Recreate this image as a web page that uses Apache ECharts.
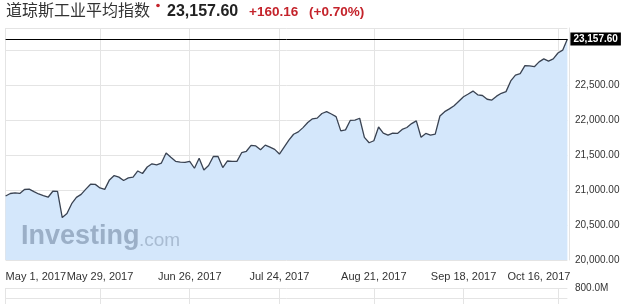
<!DOCTYPE html>
<html><head><meta charset="utf-8">
<script src="https://cdn.jsdelivr.net/npm/echarts@6/dist/echarts.min.js"></script>
<style>html,body{margin:0;padding:0;background:#fff}#c{width:627px;height:304px}</style>
</head><body><div id="c"></div>
<script>
// trading days, May 1 – Oct 18, 2017
const dates = [
 '05-01','05-02','05-03','05-04','05-05','05-08','05-09','05-10','05-11','05-12',
 '05-15','05-16','05-17','05-18','05-19','05-22','05-23','05-24','05-25','05-26',
 '05-30','05-31',
 '06-01','06-02','06-05','06-06','06-07','06-08','06-09','06-12','06-13','06-14',
 '06-15','06-16','06-19','06-20','06-21','06-22','06-23','06-26','06-27','06-28',
 '06-29','06-30',
 '07-03','07-05','07-06','07-07','07-10','07-11','07-12','07-13','07-14','07-17',
 '07-18','07-19','07-20','07-21','07-24','07-25','07-26','07-27','07-28','07-31',
 '08-01','08-02','08-03','08-04','08-07','08-08','08-09','08-10','08-11','08-14',
 '08-15','08-16','08-17','08-18','08-21','08-22','08-23','08-24','08-25','08-28',
 '08-29','08-30','08-31',
 '09-01','09-05','09-06','09-07','09-08','09-11','09-12','09-13','09-14','09-15',
 '09-18','09-19','09-20','09-21','09-22','09-25','09-26','09-27','09-28','09-29',
 '10-02','10-03','10-04','10-05','10-06','10-09','10-10','10-11','10-12','10-13',
 '10-16','10-17','10-18'
];
const closes = [
 20913.46,20949.89,20957.90,20951.47,21006.94,21012.42,20975.78,20943.11,20919.42,20896.61,
 20981.94,20979.75,20606.93,20663.02,20804.84,20894.83,20937.91,21012.28,21082.95,21080.28,
 21029.47,21008.65,
 21144.18,21206.29,21184.04,21136.23,21173.69,21182.53,21271.97,21235.67,21328.47,21374.56,
 21359.90,21384.28,21528.99,21467.14,21410.03,21397.29,21394.76,21409.55,21310.66,21454.61,
 21287.03,21349.63,
 21479.27,21478.17,21320.04,21414.34,21408.52,21409.07,21532.14,21553.09,21637.74,21629.72,
 21574.73,21640.75,21611.78,21580.07,21513.17,21613.43,21711.01,21796.55,21830.31,21891.12,
 21963.92,22016.24,22026.10,22092.81,22118.42,22085.34,22048.70,21844.01,21858.32,21993.71,
 21998.99,22024.87,21750.73,21674.51,21703.75,21899.89,21812.09,21783.40,21813.67,21808.40,
 21865.37,21892.43,21948.10,
 21987.56,21753.31,21807.64,21784.78,21797.79,22057.37,22118.86,22158.18,22203.48,22268.34,
 22331.35,22370.80,22412.59,22359.23,22349.59,22296.09,22284.32,22340.71,22381.20,22405.09,
 22557.60,22641.67,22661.64,22775.39,22773.67,22761.07,22830.68,22872.89,22841.01,22871.72,
 22956.96,22997.44,23157.60
];
const tickIndex = [0,20,39,58,78,97,117];
const tickText = ['May 1, 2017','May 29, 2017','Jun 26, 2017','Jul 24, 2017','Aug 21, 2017','Sep 18, 2017','Oct 16, 2017'];
const lastValue = 23157.60;
const titleName = '道琼斯工业平均指数';
const lastText = '23,157.60';
const changeText = '+160.16';
const changePct = '(+0.70%)';
const yMin = 20000, yMax = 23314, yStep = 500;
const volMax = 800e6, volStep = 400e6, volText = '800.0M';

const FONT = '"Liberation Sans", Arial, Helvetica, sans-serif';
const GRID = '#e4e4e4';
const RED = '#c4232b';

const catData = dates.map((d, i) => {
  if (i === 0) return { value: d, textStyle: { align: 'left' } };
  if (i === 117) return { value: d, textStyle: { align: 'center', padding: [0, 38, 0, 0] } };
  return d;
});
const isTick = (i) => tickIndex.indexOf(i) >= 0;
const fmtNum = (v) => v.toLocaleString('en-US', { minimumFractionDigits: 2, maximumFractionDigits: 2 });

const chart = echarts.init(document.getElementById('c'), null, { renderer: 'canvas' });
chart.setOption({
  animation: false,
  grid: [
    { left: 5.6, right: 59.6, top: 28, height: 232 },
    { left: 5.6, right: 59.6, top: 288, height: 80 }
  ],
  xAxis: [
    {
      type: 'category', gridIndex: 0, data: catData, boundaryGap: false,
      axisLine: { show: false }, axisTick: { show: false },
      axisLabel: {
        interval: (i) => isTick(i), showMinLabel: true, hideOverlap: false,
        formatter: (v, i) => { const k = tickIndex.indexOf(i); return k >= 0 ? tickText[k] : ''; },
        fontSize: 11, color: '#333', margin: 11, fontFamily: FONT
      },
      splitLine: { show: true, interval: (i) => isTick(i), lineStyle: { color: GRID, width: 1 } }
    },
    {
      type: 'category', gridIndex: 1, data: dates, boundaryGap: false,
      axisLine: { show: false }, axisTick: { show: false }, axisLabel: { show: false },
      splitLine: { show: true, interval: (i) => isTick(i), lineStyle: { color: GRID, width: 1 } }
    }
  ],
  yAxis: [
    {
      type: 'value', gridIndex: 0, position: 'right', min: yMin, max: yMax, interval: yStep,
      offset: 1.6,
      axisLine: { show: true, lineStyle: { color: GRID } }, axisTick: { show: false },
      axisLabel: {
        formatter: (v) => (v % yStep === 0 && Math.abs(v - lastValue) > 200 ? fmtNum(v) : ''),
        fontSize: 10, color: '#333', margin: 6, fontFamily: FONT
      },
      splitLine: { show: true, lineStyle: { color: GRID, width: 1 } }
    },
    {
      type: 'value', gridIndex: 1, position: 'right', min: 0, max: volMax, interval: volStep,
      offset: 1.6,
      axisLine: { show: false }, axisTick: { show: false },
      axisLabel: {
        formatter: (v) => (v === volMax ? volText : ''),
        fontSize: 10, color: '#333', margin: 6, fontFamily: FONT
      },
      splitLine: { show: true, lineStyle: { color: GRID, width: 1 } }
    }
  ],
  series: [{
    type: 'line', xAxisIndex: 0, yAxisIndex: 0, data: closes,
    symbol: 'none', smooth: false,
    lineStyle: { color: '#3a4352', width: 1.3 },
    areaStyle: { color: '#d4e7fb', opacity: 1 },
    markLine: {
      silent: true, symbol: ['none', 'none'],
      lineStyle: { color: '#000', width: 1, type: 'solid' },
      label: {
        show: true, position: 'end', formatter: lastText, distance: 3,
        backgroundColor: '#000', color: '#fff', fontSize: 10, fontWeight: 'bold',
        fontFamily: FONT, padding: [2, 3, 1, 3]
      },
      data: [{ yAxis: lastValue }]
    },
    z: 2
  }],
  graphic: [
    { type: 'text', x: 6, y: 10, z: 10,
      style: { text: titleName, font: '16px "Noto Sans CJK SC"', fill: '#333', verticalAlign: 'middle' } },
    { type: 'circle', shape: { cx: 158, cy: 5.5, r: 1.8 }, style: { fill: RED }, z: 10 },
    { type: 'text', x: 167, y: 11.5, z: 10,
      style: { text: lastText, font: 'bold 16px ' + FONT, fill: '#222', verticalAlign: 'middle' } },
    { type: 'text', x: 249, y: 12, z: 10,
      style: { text: changeText, font: 'bold 13.5px ' + FONT, fill: RED, verticalAlign: 'middle' } },
    { type: 'text', x: 309, y: 12, z: 10,
      style: { text: changePct, font: 'bold 13.5px ' + FONT, fill: RED, verticalAlign: 'middle' } },
    { type: 'text', x: 21, y: 236.5, z: 5,
      style: { text: 'Investing', font: 'bold 27px ' + FONT, fill: 'rgba(120,140,166,0.62)', verticalAlign: 'middle' } },
    { type: 'text', x: 139, y: 240.5, z: 5,
      style: { text: '.com', font: '19px ' + FONT, fill: 'rgba(125,145,170,0.5)', verticalAlign: 'middle' } }
  ]
});
</script>
</body></html>
